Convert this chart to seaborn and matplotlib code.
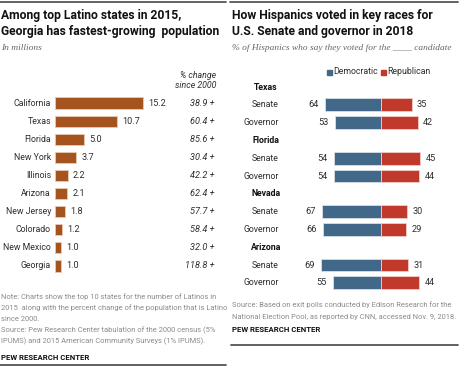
import seaborn as sns
import matplotlib.pyplot as plt
import pandas as pd
from matplotlib.patches import Rectangle
from matplotlib.lines import Line2D
from matplotlib.transforms import blended_transform_factory

sns.set_theme(style="white")
plt.rcParams['font.family'] = ['Roboto', 'DejaVu Sans']

# ---- data: left panel
states = ['California', 'Texas', 'Florida', 'New York', 'Illinois', 'Arizona',
          'New Jersey', 'Colorado', 'New Mexico', 'Georgia']
pop_millions = [15.2, 10.7, 5.0, 3.7, 2.2, 2.1, 1.8, 1.2, 1.0, 1.0]
pct_change = ['38.9', '60.4', '85.6', '30.4', '42.2', '62.4', '57.7', '58.4', '32.0', '118.8']

# ---- data: right panel
race_states = ['Texas', 'Florida', 'Nevada', 'Arizona']
races = ['Senate', 'Governor']
dem = [64, 53, 54, 54, 67, 66, 69, 55]
rep = [35, 42, 45, 44, 30, 29, 31, 44]

BROWN = '#a5531f'
BLUE = '#416888'
RED = '#c0392a'
GREY = '#8a8a8a'
TXT = '#2e2e2e'
FS = 6.3       # body text
TS = 8.7       # titles
NS = 5.45      # notes

W, H = 460, 370
fig = plt.figure(figsize=(4.6, 3.7), dpi=100)


def px_ax(x0, y0, x1, y1):
    # axes from pixel box (top-left origin)
    return fig.add_axes([x0 / W, 1 - y1 / H, (x1 - x0) / W, (y1 - y0) / H])


def ftext(x, y, s, **kw):
    fig.text(x / W, 1 - y / H, s, **kw)


def hrule(x0, x1, y, lw=1.3):
    fig.add_artist(Line2D([x0 / W, x1 / W], [1 - y / H, 1 - y / H],
                          color='#555555', lw=lw, transform=fig.transFigure))


# ---------------------------------------------------------------- left
hrule(0, 226, 2)
hrule(0, 226, 365)
ftext(1, 15, 'Among top Latino states in 2015,', fontsize=TS, weight='bold',
      va='center', color='#111111')
ftext(1, 31, 'Georgia has fastest-growing  population', fontsize=TS, weight='bold',
      va='center', color='#111111')
ftext(1, 48, 'In millions', fontsize=6.8, style='italic', family='Liberation Serif',
      va='center', color='#666666')
ftext(216, 76, '% change', fontsize=FS, style='italic', ha='right', va='center', color=TXT)
ftext(216, 86, 'since 2000', fontsize=FS, style='italic', ha='right', va='center', color=TXT)

df_pop = pd.DataFrame({'state': states, 'pop': pop_millions, 'pct': pct_change})
axl = px_ax(55, 94, 55 + 16 * 5.79, 275)
sns.barplot(data=df_pop, x='pop', y='state', order=states, color=BROWN,
            width=0.62, edgecolor='#e9c9b2', linewidth=0.6, saturation=1, ax=axl)
axl.set_xlim(0, 16)
axl.set_ylim(9.5, -0.5)
axl.axis('off')
tr = blended_transform_factory(fig.transFigure, axl.transData)
for i, row in df_pop.iterrows():
    axl.text(row['pop'] + 0.9, i, f"{row['pop']:.1f}", fontsize=FS + 0.3, va='center',
             color=TXT)
    axl.text(51 / W, i, row['state'], fontsize=FS, va='center', ha='right',
             color=TXT, transform=tr)
    axl.text(215 / W, i, row['pct'] + ' +', fontsize=FS + 0.3, va='center', ha='right',
             style='italic', color=TXT, transform=tr)

note_lines = ['Note: Charts show the top 10 states for the number of Latinos in',
              '2015  along with the percent change of the population that is Latino',
              'since 2000.',
              'Source: Pew Research Center tabulation of the 2000 census (5%',
              'IPUMS) and 2015 American Community Surveys (1% IPUMS).']
for k, line in enumerate(note_lines):
    ftext(1, 297 + k * 11, line, fontsize=NS, va='center', color=GREY)
ftext(1, 357, 'PEW RESEARCH CENTER', fontsize=5.6, weight='bold', va='center',
      color='#111111')

# ---------------------------------------------------------------- right
hrule(230, 458, 2)
hrule(231, 458, 345)
ftext(232, 15, 'How Hispanics voted in key races for', fontsize=TS, weight='bold',
      va='center', color='#111111')
ftext(232, 31, 'U.S. Senate and governor in 2018', fontsize=TS, weight='bold',
      va='center', color='#111111')
ftext(232, 48, '% of Hispanics who say they voted for the ____ candidate', fontsize=6.75,
      style='italic', family='Liberation Serif', va='center', color='#666666')

rows = []
for s in race_states:
    rows.append(s)
    for r in races:
        rows.append(f'{s} {r}')
lab = [f'{s} {r}' for s in race_states for r in races]
df_v = pd.DataFrame({'row': lab, 'dem': [-d for d in dem], 'rep': rep,
                     'd': dem, 'r': rep})

pitch = 17.8
y_top = 87 - pitch / 2
axr = px_ax(381 - 80 * 0.875, y_top, 381 + 80 * 0.875, y_top + pitch * len(rows))
sns.barplot(data=df_v, x='dem', y='row', order=rows, color=BLUE, width=0.72,
            edgecolor='#d7e0e8', linewidth=0.6, saturation=1, ax=axr)
sns.barplot(data=df_v, x='rep', y='row', order=rows, color=RED, width=0.72,
            edgecolor='#f0cdc8', linewidth=0.6, saturation=1, ax=axr)
axr.set_xlim(-80, 80)
axr.set_ylim(len(rows) - 0.5, -0.5)
axr.axis('off')

trr = blended_transform_factory(fig.transFigure, axr.transData)
for i, name in enumerate(rows):
    if name in race_states:
        axr.text(266 / W, i, name, fontsize=FS, weight='bold', ha='center',
                 va='center', color='#111111', transform=trr)
        continue
    rec = df_v[df_v['row'] == name].iloc[0]
    axr.text(279 / W, i, name.split(' ')[1], fontsize=FS, ha='right', va='center',
             color=TXT, transform=trr)
    axr.text(-rec['d'] - 7, i, str(rec['d']), fontsize=FS + 0.3, ha='right', va='center',
             color=TXT)
    axr.text(rec['r'] + 6, i, str(rec['r']), fontsize=FS + 0.3, ha='left', va='center',
             color=TXT)

# legend
for x0, c, t in [(327, BLUE, 'Democratic'), (381, RED, 'Republican')]:
    fig.add_artist(Rectangle((x0 / W, 1 - 75 / H), 5 / W, 5 / H, color=c,
                             transform=fig.transFigure))
    ftext(x0 + 6.5, 72, t, fontsize=FS, va='center', color=TXT)

src_lines = ['Source: Based on exit polls conducted by Edison Research for the',
             'National Election Pool, as reported by CNN, accessed Nov. 9, 2018.']
for k, line in enumerate(src_lines):
    ftext(232, 305 + k * 11.5, line, fontsize=NS, va='center', color=GREY)
ftext(232, 330, 'PEW RESEARCH CENTER', fontsize=5.6, weight='bold', va='center',
      color='#111111')

fig.savefig('out.png', dpi=100)
